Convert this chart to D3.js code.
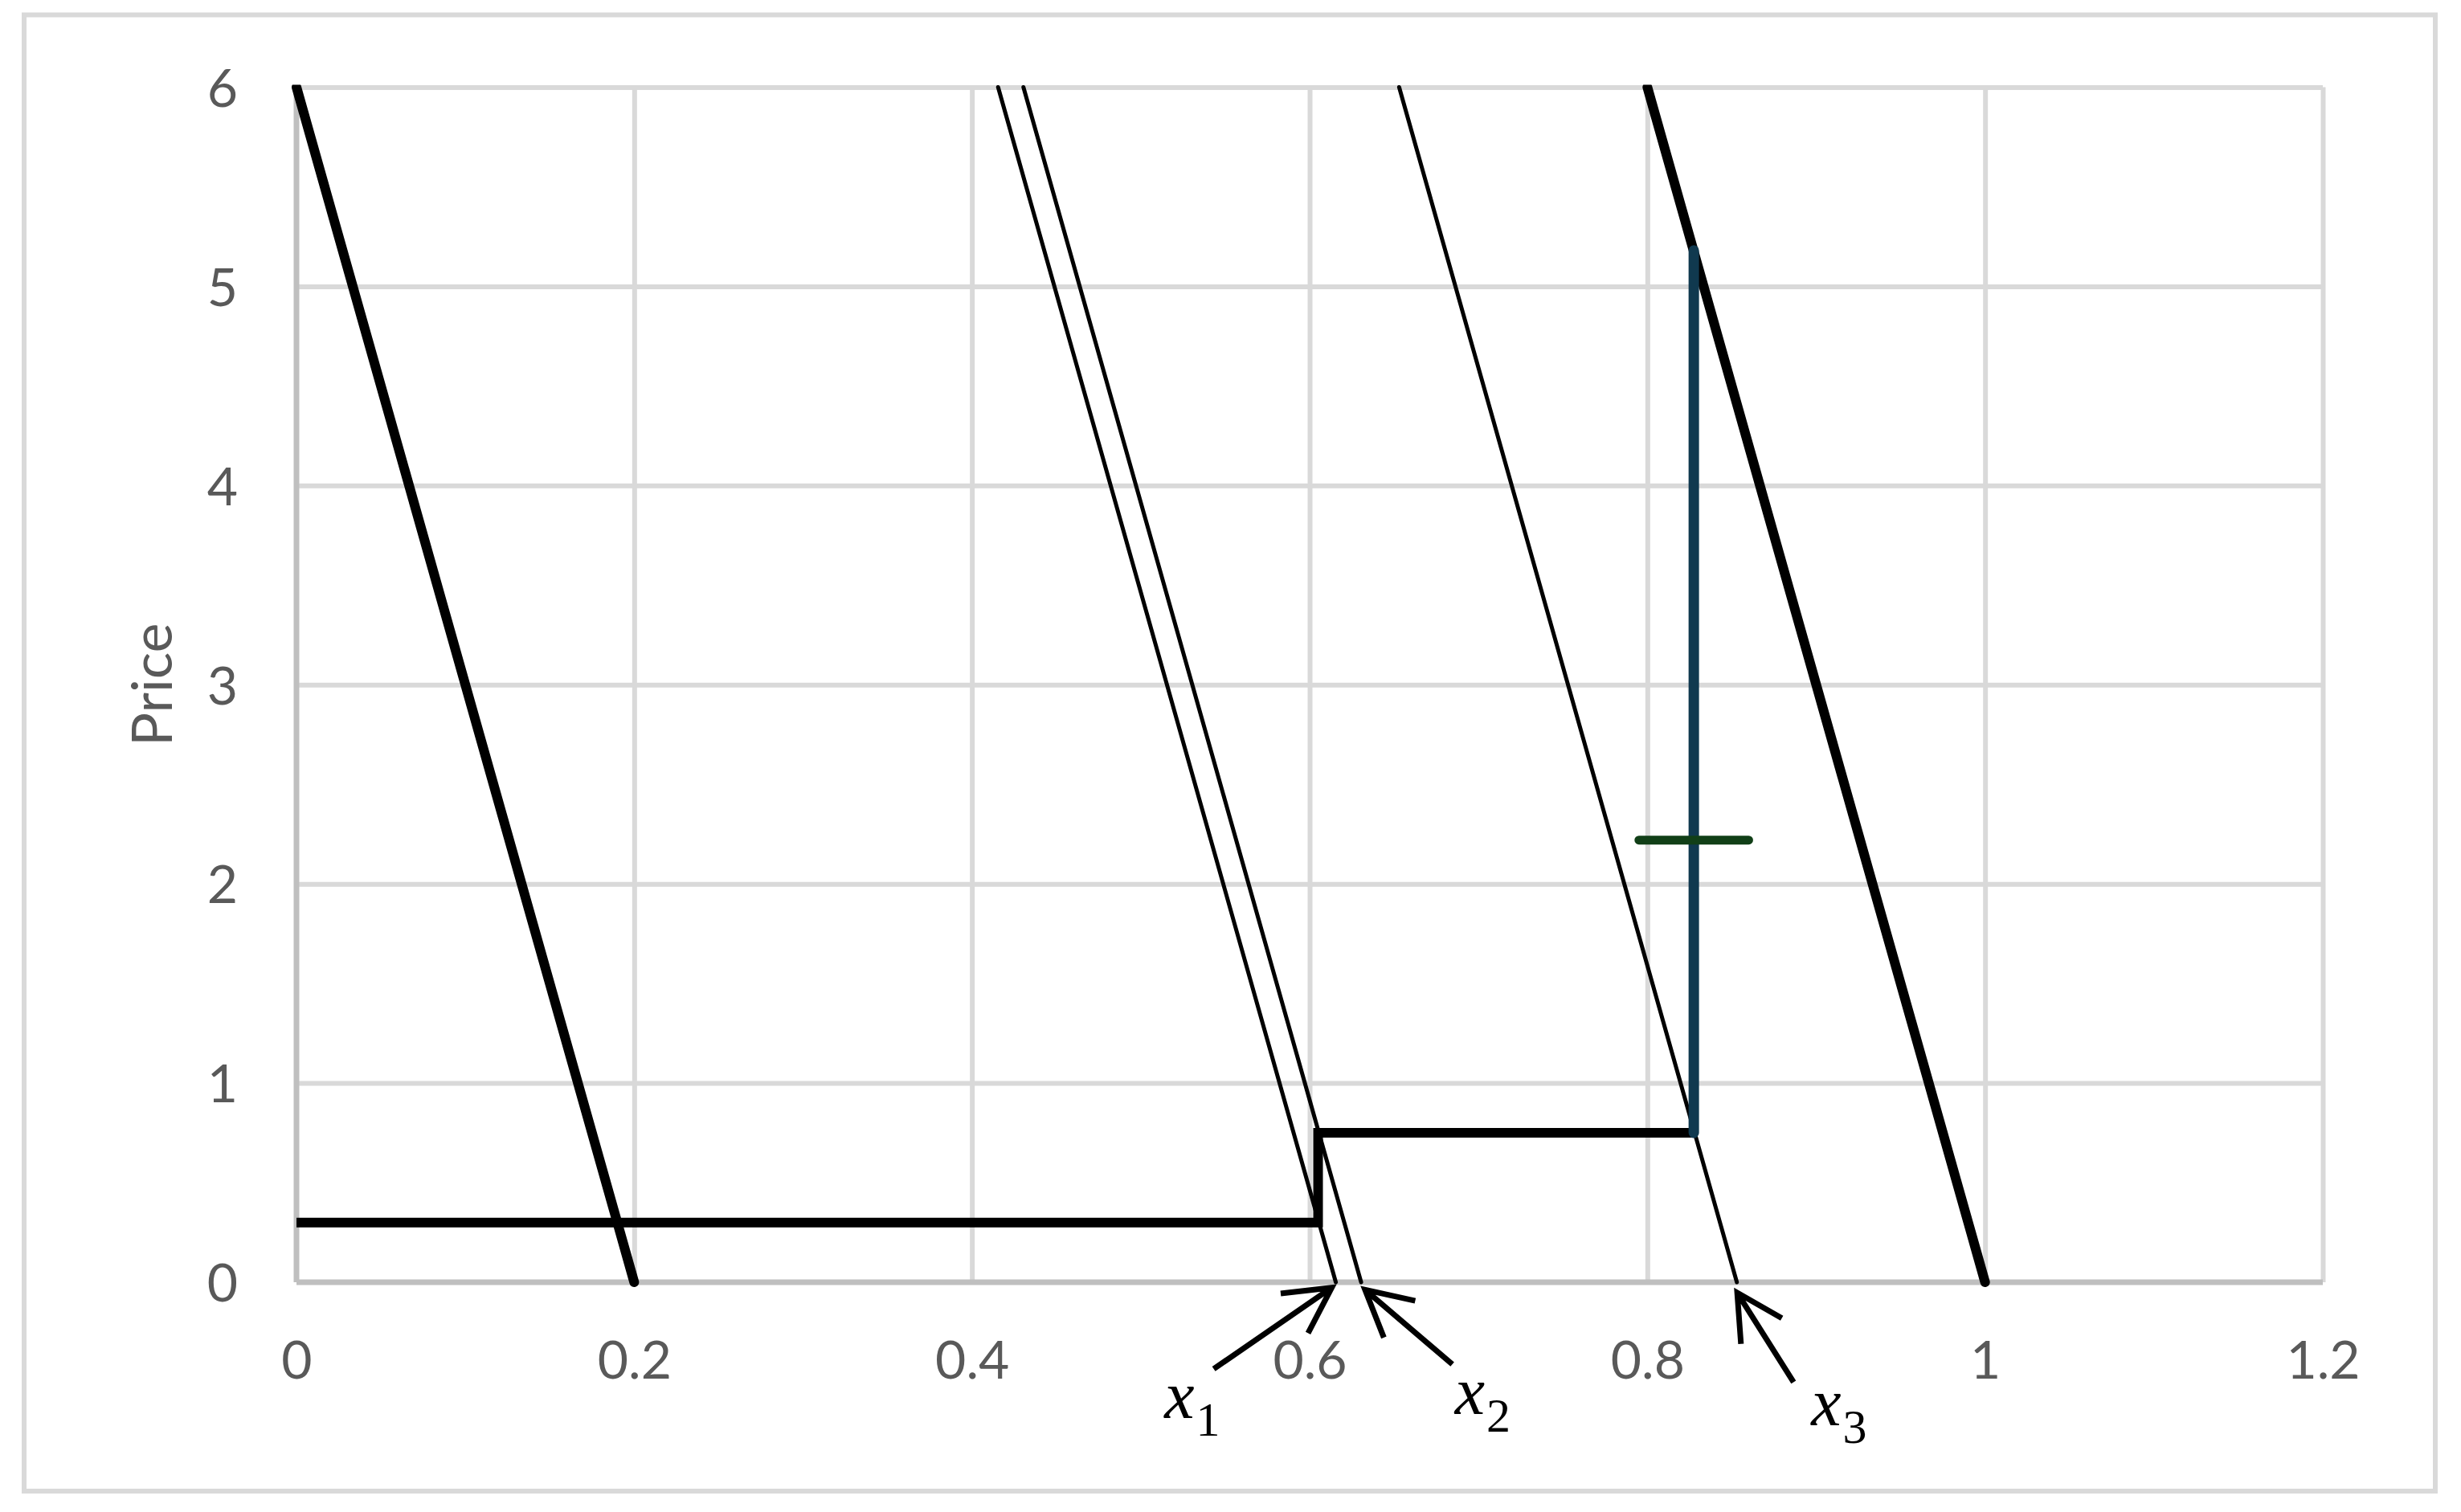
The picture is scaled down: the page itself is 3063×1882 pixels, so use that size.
<!DOCTYPE html>
<html>
<head>
<meta charset="utf-8">
<script src="https://cdn.jsdelivr.net/npm/d3@7"></script>
<style>
  body { margin: 0; background: #fff; }
  .tick text { font-family: Lato, "Noto Sans", sans-serif; fill: #595959; }
</style>
</head>
<body>
<div class="viz"></div>
<script>
// chart values
var qtyTicks = [0, 0.2, 0.4, 0.6, 0.8, 1, 1.2]
var priceTicks = [0, 1, 2, 3, 4, 5, 6]

// demand lines: quantity where price hits 6 and where it hits 0
var curveTopQty = [0, 0.4155, 0.4305, 0.653, 0.8]
var curveBottomQty = [0.2, 0.6155, 0.6305, 0.853, 1.0]
var curveTopPrice = [6, 6, 6, 6, 6]
var curveBottomPrice = [0, 0, 0, 0, 0]

// stepped price path
var stepQty = [0, 0.605, 0.605, 0.8275]
var stepPrice = [0.3, 0.3, 0.75, 0.75]

// blue vertical and green marker
var capQty = [0.8275, 0.8275]
var capPrice = [0.75, 5.18]
var markQty = [0.795, 0.86]
var markPrice = [2.22, 2.22]

// annotation arrows + labels (x_1, x_2, x_3)
var arrowTipQty = [0.6131, 0.6328, 0.8532]
var arrowTipPrice = [-0.027, -0.0375, -0.0525]
var arrowTailQty = [0.5432, 0.6845, 0.8866]
var arrowTailPrice = [-0.435, -0.412, -0.502]
var labelSubs = ['1', '2', '3']
var labelQty = [0.514, 0.686, 0.897]
var labelPrice = [-0.68, -0.66, -0.718]

var yTitle = 'Price'

var width = 3063,
    height = 1882,
    margin = {top: 108.5, right: 172, bottom: 286, left: 369}

var w = width - margin.left - margin.right,
    h = height - margin.top - margin.bottom

var svg = d3.select('.viz').append('svg')
  .attr('width', width)
  .attr('height', height)

// outer chart frame
svg.append('rect')
  .attr('x', 30).attr('y', 18.5)
  .attr('width', 3001).attr('height', 1837.5)
  .attr('fill', 'none')
  .attr('stroke', '#d9d9d9')
  .attr('stroke-width', 6)

var g = svg.append('g')
  .attr('transform', 'translate(' + margin.left + ',' + margin.top + ')')

var x = d3.scaleLinear().domain([0, 1.2]).range([0, w])
var y = d3.scaleLinear().domain([0, 6]).range([h, 0])
var fmt = d3.format('')

// gridlines
g.append('g').attr('class', 'grid')
  .attr('transform', 'translate(0,' + h + ')')
  .call(d3.axisBottom(x).tickValues(qtyTicks.slice(1)).tickSize(-h).tickFormat(''))
g.append('g').attr('class', 'grid')
  .call(d3.axisLeft(y).tickValues(priceTicks.slice(1)).tickSize(-w).tickFormat(''))
g.selectAll('.grid .domain').remove()
g.selectAll('.grid line').attr('stroke', '#d9d9d9').attr('stroke-width', 6)

// axis lines
g.append('line')
  .attr('x1', x(0)).attr('x2', x(1.2)).attr('y1', y(0)).attr('y2', y(0))
  .attr('stroke', '#bfbfbf').attr('stroke-width', 7)
g.append('line')
  .attr('x1', x(0)).attr('x2', x(0)).attr('y1', y(0)).attr('y2', y(6))
  .attr('stroke', '#bfbfbf').attr('stroke-width', 7)

// tick labels
var xAxis = g.append('g')
  .attr('transform', 'translate(0,' + h + ')')
  .call(d3.axisBottom(x).tickValues(qtyTicks).tickFormat(fmt).tickSize(0).tickPadding(73))
var yAxis = g.append('g')
  .call(d3.axisLeft(y).tickValues(priceTicks).tickFormat(fmt).tickSize(0).tickPadding(73))
xAxis.select('.domain').remove()
yAxis.select('.domain').remove()
g.selectAll('.tick text').attr('font-size', 66)
yAxis.selectAll('.tick text').attr('dy', '0.36em')

// y title
svg.append('text')
  .attr('transform', 'translate(214,' + (margin.top + h / 2) + ') rotate(-90)')
  .attr('text-anchor', 'middle')
  .attr('font-family', 'Lato, "Noto Sans", sans-serif')
  .attr('font-size', 70)
  .attr('fill', '#595959')
  .text(yTitle)

// clip the demand lines at the top of the plot
svg.append('defs').append('clipPath').attr('id', 'plotclip')
  .append('rect')
  .attr('x', -20).attr('y', y(6) - 3)
  .attr('width', w + 40).attr('height', h + 40)

var line = d3.line()
  .x(function (d) { return x(d[0]) })
  .y(function (d) { return y(d[1]) })

var curves = curveTopQty.map(function (q, i) {
  return [[q, curveTopPrice[i]], [curveBottomQty[i], curveBottomPrice[i]]]
})

g.append('g').attr('clip-path', 'url(#plotclip)')
  .selectAll('path')
  .data(curves)
  .enter()
  .append('path')
  .attr('d', line)
  .attr('fill', 'none')
  .attr('stroke', '#000')
  .attr('stroke-linecap', 'round')
  .attr('stroke-width', function (d, i) {
    return (i === 0 || i === curves.length - 1) ? 12 : 5
  })

// stepped line
g.append('path')
  .datum(stepQty.map(function (q, i) { return [q, stepPrice[i]] }))
  .attr('d', line)
  .attr('fill', 'none')
  .attr('stroke', '#000')
  .attr('stroke-width', 12)
  .attr('stroke-linejoin', 'miter')

// blue vertical
g.append('path')
  .datum(capQty.map(function (q, i) { return [q, capPrice[i]] }))
  .attr('d', line)
  .attr('fill', 'none')
  .attr('stroke', '#10394f')
  .attr('stroke-width', 13)
  .attr('stroke-linecap', 'round')

// green marker
g.append('path')
  .datum(markQty.map(function (q, i) { return [q, markPrice[i]] }))
  .attr('d', line)
  .attr('fill', 'none')
  .attr('stroke', '#113f17')
  .attr('stroke-width', 11)
  .attr('stroke-linecap', 'round')

// arrows
var headLen = 64, headAng = 28 * Math.PI / 180
arrowTipQty.forEach(function (q, i) {
  var tx = x(q), ty = y(arrowTipPrice[i])
  var sx = x(arrowTailQty[i]), sy = y(arrowTailPrice[i])
  var a = Math.atan2(sy - ty, sx - tx)
  var b1 = [tx + headLen * Math.cos(a + headAng), ty + headLen * Math.sin(a + headAng)]
  var b2 = [tx + headLen * Math.cos(a - headAng), ty + headLen * Math.sin(a - headAng)]
  g.append('path')
    .attr('d', 'M' + sx + ',' + sy + 'L' + tx + ',' + ty +
      'M' + b1[0] + ',' + b1[1] + 'L' + tx + ',' + ty + 'L' + b2[0] + ',' + b2[1])
    .attr('fill', 'none')
    .attr('stroke', '#000')
    .attr('stroke-width', 7)
    .attr('stroke-linejoin', 'miter')
})

// x_i labels
labelSubs.forEach(function (s, i) {
  var t = g.append('text')
    .attr('x', x(labelQty[i]))
    .attr('y', y(labelPrice[i]))
    .attr('font-family', '"Liberation Serif", "DejaVu Serif", serif')
    .attr('fill', '#000')
  t.append('tspan').attr('font-style', 'italic').attr('font-size', 84).text('x')
  t.append('tspan').attr('font-size', 60).attr('dy', 22).attr('dx', 2).text(s)
})
</script>
</body>
</html>
